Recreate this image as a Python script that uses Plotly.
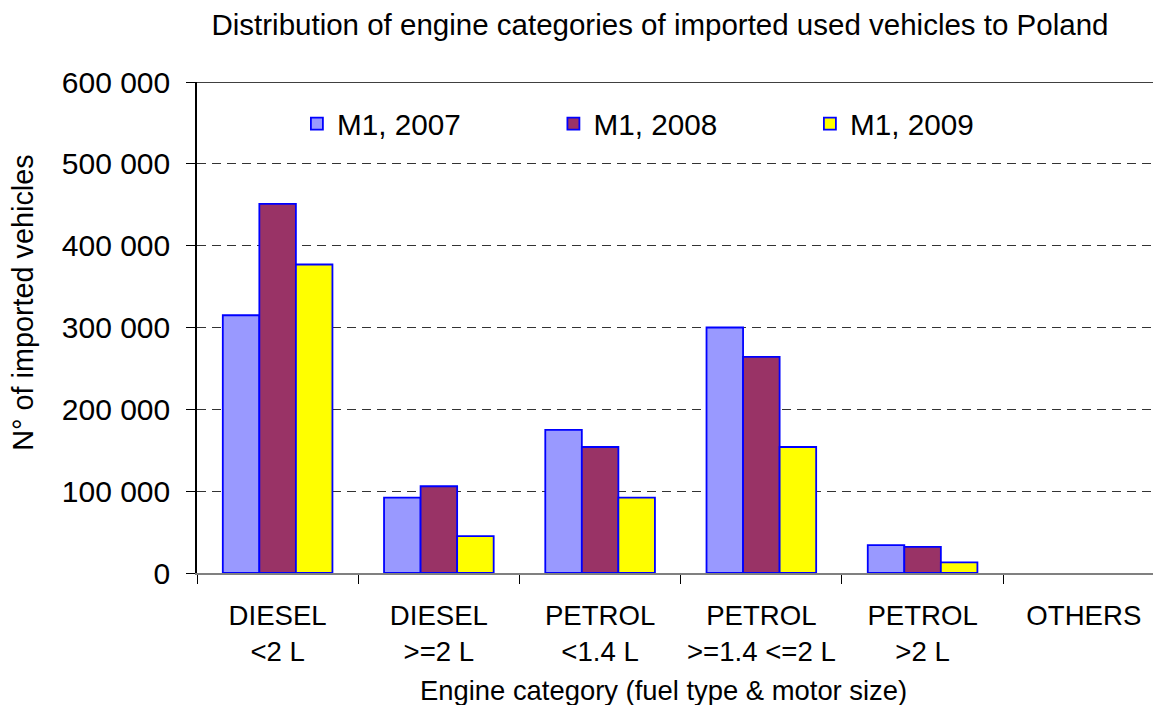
import plotly.graph_objects as go

categories = ["DIESEL<br><2 L", "DIESEL<br>>=2 L", "PETROL<br><1.4 L",
              "PETROL<br>>=1.4 <=2 L", "PETROL<br>>2 L", "OTHERS"]
series_names = ["M1, 2007", "M1, 2008", "M1, 2009"]
values_2007 = [315000, 92000, 175000, 300000, 34000, None]
values_2008 = [451000, 106000, 154000, 264000, 32000, None]
values_2009 = [377000, 45000, 92000, 154000, 13000, None]
colors = ["#9999FF", "#993366", "#FFFF00"]
y_ticks = [0, 100000, 200000, 300000, 400000, 500000, 600000]

FONT = "Arial, Liberation Sans, sans-serif"

fig = go.Figure()
for name, vals, col in zip(series_names, [values_2007, values_2008, values_2009], colors):
    fig.add_trace(go.Bar(
        x=categories, y=vals, name=name,
        marker=dict(color=col, line=dict(color="#0000FF", width=1.8)),
    ))

fig.update_layout(
    width=1145, height=697,
    margin=dict(l=188.7, r=0, t=73.7, b=132.3, autoexpand=False),
    paper_bgcolor="white", plot_bgcolor="white",
    separators=", ",
    barmode="group", bargap=0.32, bargroupgap=0,
    font=dict(family=FONT, size=27, color="black"),
    title=dict(text="Distribution of engine categories of imported used vehicles to Poland",
               font=dict(size=29.5, color="black", family=FONT),
               x=0.5694, xref="container", xanchor="center",
               y=1 - 17 / 697, yref="container", yanchor="middle"),
    legend=dict(orientation="h", x=0.1045, xanchor="left", y=0.915, yanchor="middle",
                font=dict(size=29.7, family=FONT), bgcolor="rgba(0,0,0,0)",
                entrywidth=211.5, entrywidthmode="pixels", traceorder="normal"),
    xaxis=dict(
        type="category", range=[-0.5, 5.429],
        showline=True, linecolor="#808080", linewidth=2,
        ticks="outside", tickson="boundaries", ticklen=9, tickcolor="black", tickwidth=1,
        showgrid=False, tickfont=dict(size=27.6), ticklabelstandoff=17, automargin=False,
    ),
    yaxis=dict(
        range=[0, 600000], tickvals=y_ticks, tickformat=",d",
        showline=True, linecolor="black", linewidth=1.5,
        ticks="outside", ticklen=9, tickcolor="black", tickwidth=1,
        showgrid=True, gridcolor="#333333", gridwidth=1, griddash="9px,6px",
        tickfont=dict(size=30), ticklabelstandoff=10, automargin=False,
        zeroline=False,
    ),
    annotations=[
        dict(text="N° of imported vehicles", textangle=-90, showarrow=False,
             xref="paper", yref="paper", x=-0.182, y=0.5503,
             xanchor="center", yanchor="middle", font=dict(size=28.8)),
        dict(text="Engine category (fuel type & motor size)", showarrow=False,
             xref="paper", yref="paper", x=0.4876, y=-0.2389,
             xanchor="center", yanchor="middle", font=dict(size=27.4)),
    ],
)

fig.add_shape(type="line", xref="paper", yref="y", x0=0, x1=1, y0=600000, y1=600000,
              line=dict(color="black", width=1.5))

fig.write_html("out.html")
